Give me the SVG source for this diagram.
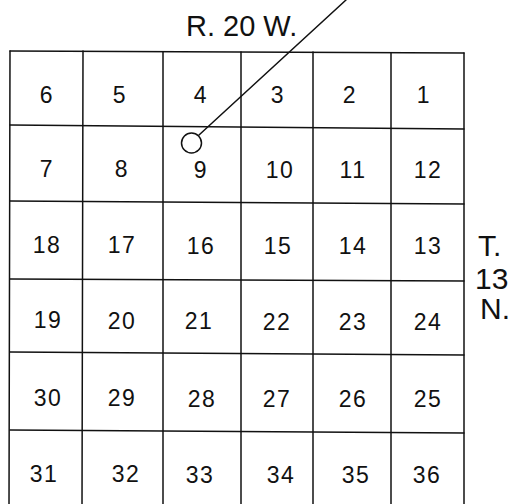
<svg xmlns="http://www.w3.org/2000/svg" width="509" height="504" viewBox="0 0 509 504">
<style>
.g{stroke:#111;stroke-width:1.5;fill:none;stroke-linecap:round}
.n{font-family:"Liberation Sans",Arial,sans-serif;font-size:23px;fill:#111;text-anchor:middle;letter-spacing:1.5px}
.l{font-family:"Liberation Sans",Arial,sans-serif;fill:#111}
</style>
<rect width="509" height="504" fill="#fff"/>
<g id="grid" class="g">
<path d="M10,51 L464,53"/>
<path d="M10,125 L464,129"/>
<path d="M10,201 L464,204"/>
<path d="M10,279 L464,281"/>
<path d="M10,352 L464,355"/>
<path d="M10,430 L464,433"/>
<path d="M10,51 L9,504"/>
<path d="M83,51 L82,504"/>
<path d="M163,52 L163,504"/>
<path d="M241,52 L241,504"/>
<path d="M313,52 L313,504"/>
<path d="M391,53 L391,504"/>
<path d="M464,53 L464,504"/>
</g>
<g id="connectors" class="g">
<line x1="199" y1="135" x2="346" y2="0"/>
</g>
<g id="well"><circle class="g" cx="191.5" cy="143" r="10"/></g>
<g id="labels">
<text class="l" x="186" y="36" font-size="29">R. 20 W.</text>
<text class="l" x="478" y="256" font-size="30">T.</text>
<text class="l" x="475" y="289" font-size="30">13</text>
<text class="l" x="480" y="319" font-size="30">N.</text>
</g>
<g id="sections" class="n">
<text x="47" y="103">6</text><text x="120" y="103">5</text><text x="201" y="103">4</text><text x="278" y="103">3</text><text x="350" y="103">2</text><text x="424" y="103">1</text>
<text x="47" y="177">7</text><text x="122" y="177">8</text><text x="201" y="178">9</text><text x="280" y="178">10</text><text x="353" y="178">11</text><text x="428" y="178">12</text>
<text x="47" y="253">18</text><text x="122" y="253">17</text><text x="201" y="254">16</text><text x="278" y="254">15</text><text x="353" y="254">14</text><text x="428" y="254">13</text>
<text x="48" y="328">19</text><text x="122" y="329">20</text><text x="199" y="329">21</text><text x="277" y="330">22</text><text x="353" y="330">23</text><text x="428" y="330">24</text>
<text x="48" y="406">30</text><text x="122" y="406">29</text><text x="202" y="407">28</text><text x="277" y="407">27</text><text x="353" y="407">26</text><text x="428" y="407">25</text>
<text x="44" y="482">31</text><text x="126" y="482">32</text><text x="200" y="483">33</text><text x="281" y="483">34</text><text x="356" y="483">35</text><text x="427" y="483">36</text>
</g>
</svg>
